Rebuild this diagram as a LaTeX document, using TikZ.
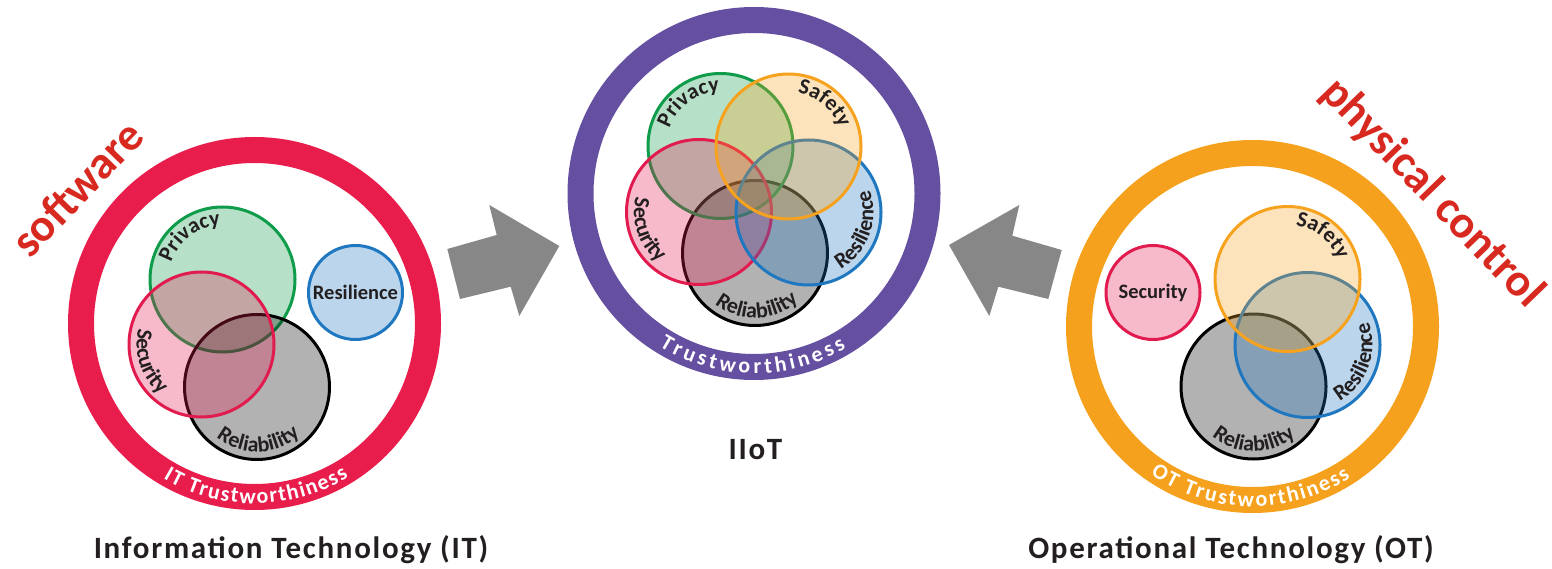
\documentclass[tikz,border=0pt]{standalone}
\usepackage{fontspec}
\setmainfont{Carlito}
\newfontfamily\spaced{Carlito}[LetterSpace=5.5]
\usetikzlibrary{decorations.text}

\definecolor{itred}{HTML}{E81D4C}
\definecolor{iotpurple}{HTML}{654FA0}
\definecolor{otorange}{HTML}{F6A11D}
\definecolor{cgreen}{HTML}{0E9C4A}
\definecolor{cred}{HTML}{E21B4F}
\definecolor{cblue}{HTML}{1F77C0}
\definecolor{corange}{HTML}{F6A21E}
\definecolor{cblack}{HTML}{000000}
\definecolor{arrowgray}{HTML}{878787}
\definecolor{labelred}{HTML}{D7291F}
\definecolor{ink}{HTML}{231F20}

% font switches used inside curved labels
\newcommand\setfont{\fontsize{22}{22}\selectfont\bfseries}
\newcommand\ringfont{\fontsize{22}{22}\selectfont\bfseries}

% label along the inside of a circle, letters pointing to its centre
\newcommand\ccwlabel[4]{%
  \path[decorate, decoration={text along path, text align=center,
      text color=ink, text={|\setfont|#4}}]
    (#1.center) ++({#2-60}:#3) arc[start angle={#2-60}, end angle={#2+60}, radius=#3];}
% label along the inside of a circle, letters pointing outwards
\newcommand\cwlabel[4]{%
  \path[decorate, decoration={text along path, text align=center,
      text color=ink, text={|\setfont|#4}}]
    (#1.center) ++({#2+60}:#3) arc[start angle={#2+60}, end angle={#2-60}, radius=#3];}
% white label spread over the bottom of a ring
\newcommand\ringlabel[5]{%
  \path[decorate, decoration={text along path, text align=fit to path,
      text color=white, text={|\ringfont|#5}}]
    (#1.center) ++(#2:#4) arc[start angle=#2, end angle=#3, radius=#4];}

\begin{document}
\begin{tikzpicture}[x=1pt, y=1pt,
  ringstyle/.style={circle, draw=#1, line width=26pt, minimum size=347pt, inner sep=0pt},
  setbig/.style={circle, draw=#1, fill=#1, fill opacity=0.3, line width=3pt,
                 minimum size=145pt, inner sep=0pt},
  setsmall/.style={circle, draw=#1, fill=#1, fill opacity=0.3, line width=3pt,
                 minimum size=94pt, inner sep=0pt},
  blockarrow/.style={fill=arrowgray},
  titletext/.style={font=\spaced\fontsize{31}{31}\selectfont\bfseries, text=ink, anchor=base},
  domainword/.style={font=\fontsize{46}{46}\selectfont\bfseries, text=labelred},
  flatlabel/.style={font=\fontsize{20.5}{20.5}\selectfont\bfseries, text=ink}]

\useasboundingbox (0,0) rectangle (1552,568);

% ---------- IT ----------
\node[ringstyle=itred] (itring) at (254.5,244.5) {};
\node[setbig=cgreen] (itpriv) at (222.5,288.5) {};
\node[setbig=cblack] (itrel) at (257,181) {};
\node[setbig=cred] (itsec) at (201.5,223.5) {};
\node[setsmall=cblue] (itres) at (355.5,275.5) {};
\node[flatlabel] (itreslbl) at (itres.center) {Resilience};
\cwlabel{itpriv}{127}{54}{Privacy}
\ccwlabel{itsec}{198}{65}{Security}
\ccwlabel{itrel}{271.5}{65}{Reliability}
\ringlabel{itring}{239.5}{301.5}{180}{IT Trustworthiness}

% ---------- IIoT ----------
\node[ringstyle=iotpurple] (iotring) at (754,374.5) {};
\node[setbig=cblack] (iotrel) at (755,315) {};
\node[setbig=cgreen] (iotpriv) at (720.5,422) {};
\node[setbig=cred] (iotsec) at (699,356) {};
\node[setbig=cblue] (iotres) at (808.5,355.5) {};
\node[setbig=corange] (iotsaf) at (788.5,421.5) {};
\cwlabel{iotpriv}{126}{54}{Privacy}
\cwlabel{iotsaf}{50}{54}{Safety}
\ccwlabel{iotsec}{199}{65}{Security}
\ccwlabel{iotres}{-20}{65}{Resilience}
\ccwlabel{iotrel}{272}{65}{Reliability}
\ringlabel{iotring}{238.2}{300.8}{180}{Trustworthiness}

% ---------- OT ----------
\node[ringstyle=otorange] (otring) at (1252.5,241.5) {};
\node[setsmall=cred] (otsec) at (1153,275.5) {};
\node[flatlabel] (otseclbl) at (otsec.center) {Security};
\node[setbig=cblack] (otrel) at (1253.5,181.5) {};
\node[setbig=cblue] (otres) at (1307.5,223) {};
\node[setbig=corange] (otsaf) at (1287.5,289) {};
\cwlabel{otsaf}{51}{54}{Safety}
\ccwlabel{otres}{-20}{65}{Resilience}
\ccwlabel{otrel}{270.6}{65}{Reliability}
\ringlabel{otring}{235.5}{303}{180}{OT Trustworthiness}

% ---------- block arrows towards the IIoT ring ----------
\fill[blockarrow] (447.3,319) -- (496.7,333) -- (489.3,363) -- (559.3,322)
  -- (519.3,252) -- (510.7,281.3) -- (460,269) -- cycle;
\fill[blockarrow] (1061.7,318) -- (1012.3,332.3) -- (1019.3,363) -- (949,323)
  -- (989.3,252) -- (998.3,281.3) -- (1048.3,269) -- cycle;

% ---------- domain words ----------
\node[domainword, rotate=46] (sw) at (77,380) {software};
\node[domainword, rotate=-46] (pc) at (1432,375) {physical control};

% ---------- titles ----------
\node[titletext] (ittitle) at (291,10) {Information Technology (IT)};
\node[titletext] (iottitle) at (755.5,109) {IIoT};
\node[titletext] (ottitle) at (1231,10) {Operational Technology (OT)};

\end{tikzpicture}
\end{document}
